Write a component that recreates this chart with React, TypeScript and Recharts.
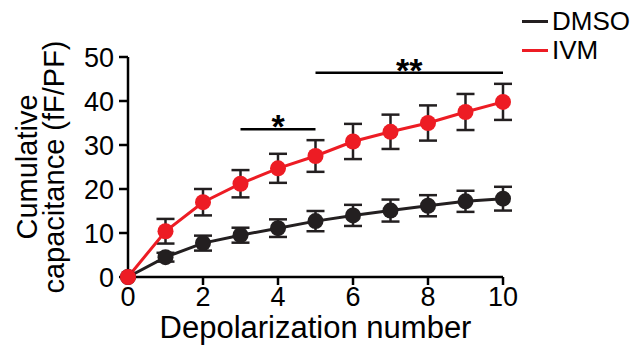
import { LineChart, Line, XAxis, YAxis, ErrorBar, ReferenceLine, Legend } from 'recharts'

const pulses = [0, 1, 2, 3, 4, 5, 6, 7, 8, 9, 10]
const dmso = [0, 4.5, 7.7, 9.5, 11.1, 12.7, 14, 15.1, 16.2, 17.2, 17.8]
const dmsoErr = [0, 1, 1.7, 1.7, 2, 2.3, 2.4, 2.5, 2.4, 2.4, 2.7]
const ivm = [0, 10.4, 17, 21.2, 24.7, 27.5, 30.8, 33, 35, 37.5, 39.8]
const ivmErr = [0, 2.8, 3, 3.1, 3.3, 3.6, 4, 3.9, 4, 4.1, 4.1]
const xTicks = [0, 2, 4, 6, 8, 10]
const yTicks = [0, 10, 20, 30, 40, 50]

// significance brackets: [from, to, height, label]
const sigBars: [number, number, number, string][] = [
  [3, 5, 33.6, '*'],
  [5, 10, 46.4, '**'],
]

const RED = '#ed1c24'
const BLACK = '#231f20'
const FONT = 'Liberation Sans, Arial, sans-serif'

const data = pulses.map((p, i) => ({
  pulse: p,
  dmso: dmso[i],
  dmsoErr: dmsoErr[i],
  ivm: ivm[i],
  ivmErr: ivmErr[i],
}))

const YLabel = () => {
  const cy = 167
  return (
    <g fontFamily={FONT} fontSize={29} fill="#000">
      <text x={37} y={cy} transform={`rotate(-90 37 ${cy})`} textAnchor="middle">
        Cumulative
      </text>
      <text x={64} y={cy} transform={`rotate(-90 64 ${cy})`} textAnchor="middle">
        capacitance (fF/PF)
      </text>
    </g>
  )
}

const renderLegend = () => (
  <div style={{ fontFamily: FONT, fontSize: 26, lineHeight: '29px', color: '#000' }}>
    {[
      ['DMSO', BLACK],
      ['IVM', RED],
    ].map(([name, color]) => (
      <div key={name} style={{ display: 'flex', alignItems: 'center' }}>
        <div style={{ width: 26, height: 3, background: color, marginRight: 4 }} />
        <span>{name}</span>
      </div>
    ))}
  </div>
)

export default function App() {
  return (
    <div style={{ position: 'absolute', left: 0, top: 0 }}>
      <LineChart
        width={640}
        height={346}
        data={data}
        margin={{ top: 57, right: 137, bottom: 39, left: 68 }}
      >
        <XAxis
          dataKey="pulse"
          type="number"
          domain={[0, 10]}
          ticks={xTicks}
          interval={0}
          height={30}
          stroke="#000"
          strokeWidth={2.5}
          tickSize={8}
          tickMargin={2}
          tick={{ fill: '#000', fontSize: 27, fontFamily: FONT }}
          label={{
            value: 'Depolarization number',
            position: 'insideBottom',
            offset: 0,
            fill: '#000',
            fontSize: 31,
            fontFamily: FONT,
            dy: 31,
          }}
        />
        <YAxis
          type="number"
          domain={[0, 50]}
          ticks={yTicks}
          interval={0}
          width={60}
          stroke="#000"
          strokeWidth={2.5}
          tickSize={9}
          tickMargin={5}
          tick={{ fill: '#000', fontSize: 27, fontFamily: FONT }}
          label={<YLabel />}
        />
        {sigBars.map(([x1, x2, y, label]) => (
          <ReferenceLine
            key={label}
            segment={[
              { x: x1, y },
              { x: x2, y },
            ]}
            stroke="#000"
            strokeWidth={2.5}
            label={{ value: label, position: 'top', fontSize: 34, fontWeight: 'bold', fill: '#000', fontFamily: FONT, dy: 14 }}
          />
        ))}
        <Line
          dataKey="dmso"
          stroke={BLACK}
          strokeWidth={3}
          dot={{ r: 8, fill: BLACK, stroke: BLACK, strokeWidth: 0 }}
          isAnimationActive={false}
        >
          <ErrorBar dataKey="dmsoErr" width={9} stroke={BLACK} strokeWidth={2.5} />
        </Line>
        <Line
          dataKey="ivm"
          stroke={RED}
          strokeWidth={3}
          dot={{ r: 8, fill: RED, stroke: RED, strokeWidth: 0 }}
          isAnimationActive={false}
        >
          <ErrorBar dataKey="ivmErr" width={9} stroke={BLACK} strokeWidth={2.5} />
        </Line>
        <Legend
          content={renderLegend}
          layout="vertical"
          align="center"
          verticalAlign="middle"
          wrapperStyle={{ position: 'absolute', left: 522, top: 7, width: 118 }}
        />
      </LineChart>
    </div>
  )
}
